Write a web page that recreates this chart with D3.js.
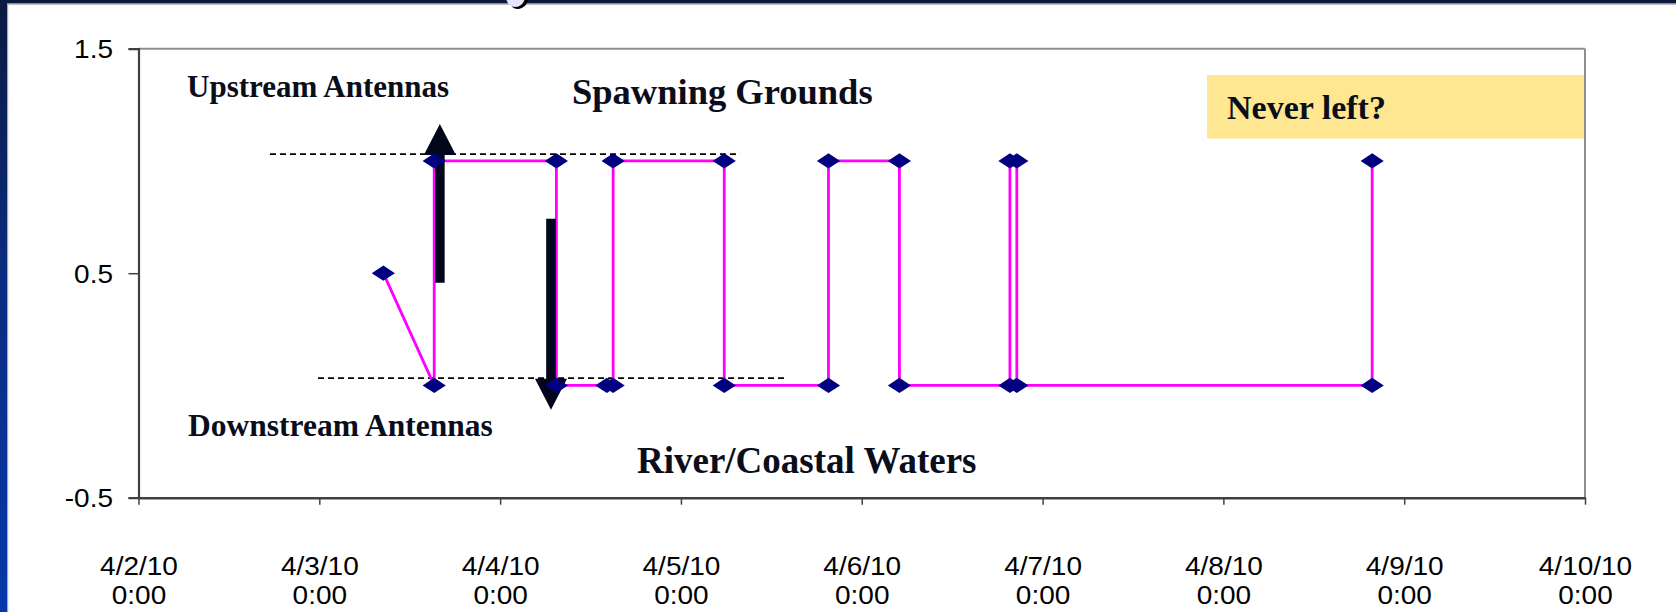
<!DOCTYPE html>
<html><head><meta charset="utf-8">
<script src="https://cdn.jsdelivr.net/npm/d3@7"></script>
<style>html,body{margin:0;padding:0;background:#fff;overflow:hidden}</style>
</head><body>
<svg id="chart" width="1676" height="612"></svg>
<script>
// ---------- data ----------
const detectTimes = [
  "2010-04-03T08:30","2010-04-03T15:15","2010-04-03T15:15","2010-04-04T07:28",
  "2010-04-04T07:28","2010-04-04T14:10","2010-04-04T15:00","2010-04-04T15:00",
  "2010-04-05T05:45","2010-04-05T05:45","2010-04-05T19:35","2010-04-05T19:35",
  "2010-04-06T05:00","2010-04-06T05:00","2010-04-06T19:40","2010-04-06T19:40",
  "2010-04-06T20:35","2010-04-06T20:35","2010-04-08T19:45","2010-04-08T19:45"
];
const detectValues = [0.5,0,1,1, 0,0,0,1, 1,0,0,1, 1,0,0,1, 1,0,0,1];
const xDomain = ["2010-04-02T00:00","2010-04-10T00:00"];
const xTickValues = ["2010-04-02T00:00","2010-04-03T00:00","2010-04-04T00:00","2010-04-05T00:00",
  "2010-04-06T00:00","2010-04-07T00:00","2010-04-08T00:00","2010-04-09T00:00","2010-04-10T00:00"];
const yDomain = [-0.5, 1.5];
const yTickValues = [-0.5, 0.5, 1.5];
// annotations (data units)
const arrowTimes = ["2010-04-03T16:00","2010-04-04T06:45"];
const arrowFrom  = [0.458, 0.742];
const arrowTo    = [1.165, -0.108];
const guideStart = ["2010-04-02T17:27","2010-04-02T23:50"];
const guideEnd   = ["2010-04-05T07:51","2010-04-05T14:05"];
const guideValue = [1.030, 0.033];
const zoneLabels = ["Upstream Antennas","Spawning Grounds","Downstream Antennas","River/Coastal Waters"];
const noteLabel = "Never left?";

// ---------- layout ----------
const W = 1676, H = 612;
const plot = {left:138.5, right:1585, top:48.7, bottom:497.7};
const parse = d3.utcParse("%Y-%m-%dT%H:%M");
const svg = d3.select("#chart");

const defs = svg.append("defs");
const grad = defs.append("linearGradient").attr("id","side").attr("x1",0).attr("y1",0).attr("x2",0).attr("y2",1);
grad.append("stop").attr("offset","0%").attr("stop-color","#0a1a40");
grad.append("stop").attr("offset","45%").attr("stop-color","#0a2c80");
grad.append("stop").attr("offset","100%").attr("stop-color","#0638aa");

svg.append("rect").attr("width",W).attr("height",H).attr("fill","#ffffff");
// slide decoration
svg.append("rect").attr("x",0).attr("y",0).attr("width",W).attr("height",3.6).attr("fill","#0b1a3c");
svg.append("line").attr("x1",0).attr("x2",W).attr("y1",4.2).attr("y2",4.2).attr("stroke","#a8a8a8").attr("stroke-width",1.2);
svg.append("rect").attr("x",0).attr("y",0).attr("width",7).attr("height",H).attr("fill","url(#side)");
svg.append("line").attr("x1",7.6).attr("x2",7.6).attr("y1",4).attr("y2",H).attr("stroke","#a8a8a8").attr("stroke-width",1.2);
// tail of the slide title's glyph peeking in at the top edge
svg.append("path").attr("d","M509,0 Q511,9.5 518.5,9 Q526,8 528,0 Z").attr("fill","#000");
svg.append("path").attr("d","M506.5,0 Q508.5,7 515.5,7 Q522,6.5 524.5,0 Z").attr("fill","#e4e4ff");

const x = d3.scaleUtc().domain(xDomain.map(parse)).range([plot.left, plot.right]);
const y = d3.scaleLinear().domain(yDomain).range([plot.bottom, plot.top]);

const tickFont = "Liberation Sans, Arial, sans-serif";
const serif = "Liberation Serif, Times New Roman, serif";
const stretch = 1.12;
const tickSize = 25;

// plot frame (top/right)
svg.append("line").attr("x1",plot.left).attr("x2",plot.right).attr("y1",plot.top).attr("y2",plot.top)
  .attr("stroke","#8e8e8e").attr("stroke-width",2);
svg.append("line").attr("x1",plot.right).attr("x2",plot.right).attr("y1",plot.top).attr("y2",plot.bottom)
  .attr("stroke","#8e8e8e").attr("stroke-width",2);

// Never left? box
const boxX0 = 1207, boxY0 = 75, boxY1 = 138.5;
svg.append("rect").attr("x",boxX0).attr("y",boxY0).attr("width",plot.right-1-boxX0).attr("height",boxY1-boxY0)
  .attr("fill","#ffe690");
svg.append("text").attr("x",1227).attr("y",119).attr("font-family",serif).attr("font-weight","bold")
  .attr("font-size",34).attr("fill","#0a0d1a").text(noteLabel);

// y axis
const yAxis = svg.append("g").attr("transform",`translate(${plot.left},0)`)
  .call(d3.axisLeft(y).tickValues(yTickValues).tickSize(10).tickFormat(""));
yAxis.select(".domain").attr("stroke","#404040").attr("stroke-width",2.2);
yAxis.selectAll(".tick line").attr("stroke","#404040").attr("stroke-width",1.5);
yAxis.selectAll(".tick").append("text")
  .attr("transform",`translate(-25.5,0) scale(${stretch},1)`)
  .attr("text-anchor","end").attr("dy","0.36em").attr("fill","#000")
  .attr("font-family",tickFont).attr("font-size",tickSize)
  .text(d => d.toFixed(1));

// x axis
const fmtDate = d3.utcFormat("%-m/%-d/%y");
const fmtTime = d3.utcFormat("%-H:%M");
const xAxis = svg.append("g").attr("transform",`translate(0,${plot.bottom})`)
  .call(d3.axisBottom(x).tickValues(xTickValues.map(parse)).tickSize(7).tickSizeOuter(0).tickFormat(""));
xAxis.select(".domain").attr("stroke","#404040").attr("stroke-width",2.6);
xAxis.selectAll(".tick line").attr("stroke","#404040").attr("stroke-width",1.5);
const xl = xAxis.selectAll(".tick").append("g").attr("transform",`scale(${stretch},1)`);
xl.append("text").attr("y",77.5).attr("text-anchor","middle").attr("fill","#000")
  .attr("font-family",tickFont).attr("font-size",tickSize).text(d => fmtDate(d));
xl.append("text").attr("y",106.5).attr("text-anchor","middle").attr("fill","#000")
  .attr("font-family",tickFont).attr("font-size",tickSize).text(d => fmtTime(d));

// guide dashed lines
svg.append("g").selectAll("line").data(guideValue).join("line")
  .attr("x1",(d,i)=>x(parse(guideStart[i]))).attr("x2",(d,i)=>x(parse(guideEnd[i])))
  .attr("y1",d=>y(d)).attr("y2",d=>y(d))
  .attr("stroke","#000").attr("stroke-width",1.8).attr("stroke-dasharray","6,4");

// series line
const pts = detectTimes.map((t,i)=>({t:parse(t), v:detectValues[i]}));
svg.append("path").datum(pts)
  .attr("d", d3.line().x(d=>x(d.t)).y(d=>y(d.v)))
  .attr("fill","none").attr("stroke","#ff00ff").attr("stroke-width",2.8);

// arrows
const shaftHalf = 4.8, headHalf = 16, headLen = 31;
svg.append("g").selectAll("path").data(arrowTimes).join("path")
  .attr("d",(t,i)=>{
    const cx = x(parse(t)), y0 = y(arrowFrom[i]), y1 = y(arrowTo[i]);
    const dir = Math.sign(y1 - y0), base = y1 - dir*headLen;
    return `M${cx-shaftHalf},${y0}L${cx-shaftHalf},${base}L${cx-headHalf},${base}L${cx},${y1}` +
           `L${cx+headHalf},${base}L${cx+shaftHalf},${base}L${cx+shaftHalf},${y0}Z`;
  })
  .attr("fill","#02061a");

// markers
svg.append("g").selectAll("path").data(pts).join("path")
  .attr("transform",d=>`translate(${x(d.t)},${y(d.v)})`)
  .attr("d","M0,-7.6L11.6,0L0,7.6L-11.6,0Z")
  .attr("fill","#000080");

// zone labels
const labelPos = [
  {x:187, y:97.3, size:31},
  {x:572, y:104, size:36.5},
  {x:188, y:436, size:31.5},
  {x:637, y:473, size:37}
];
svg.append("g").selectAll("text").data(zoneLabels).join("text")
  .attr("x",(d,i)=>labelPos[i].x).attr("y",(d,i)=>labelPos[i].y)
  .attr("font-size",(d,i)=>labelPos[i].size)
  .attr("font-family",serif).attr("font-weight","bold").attr("fill","#0a0d1a")
  .text(d=>d);
</script>
</body></html>
